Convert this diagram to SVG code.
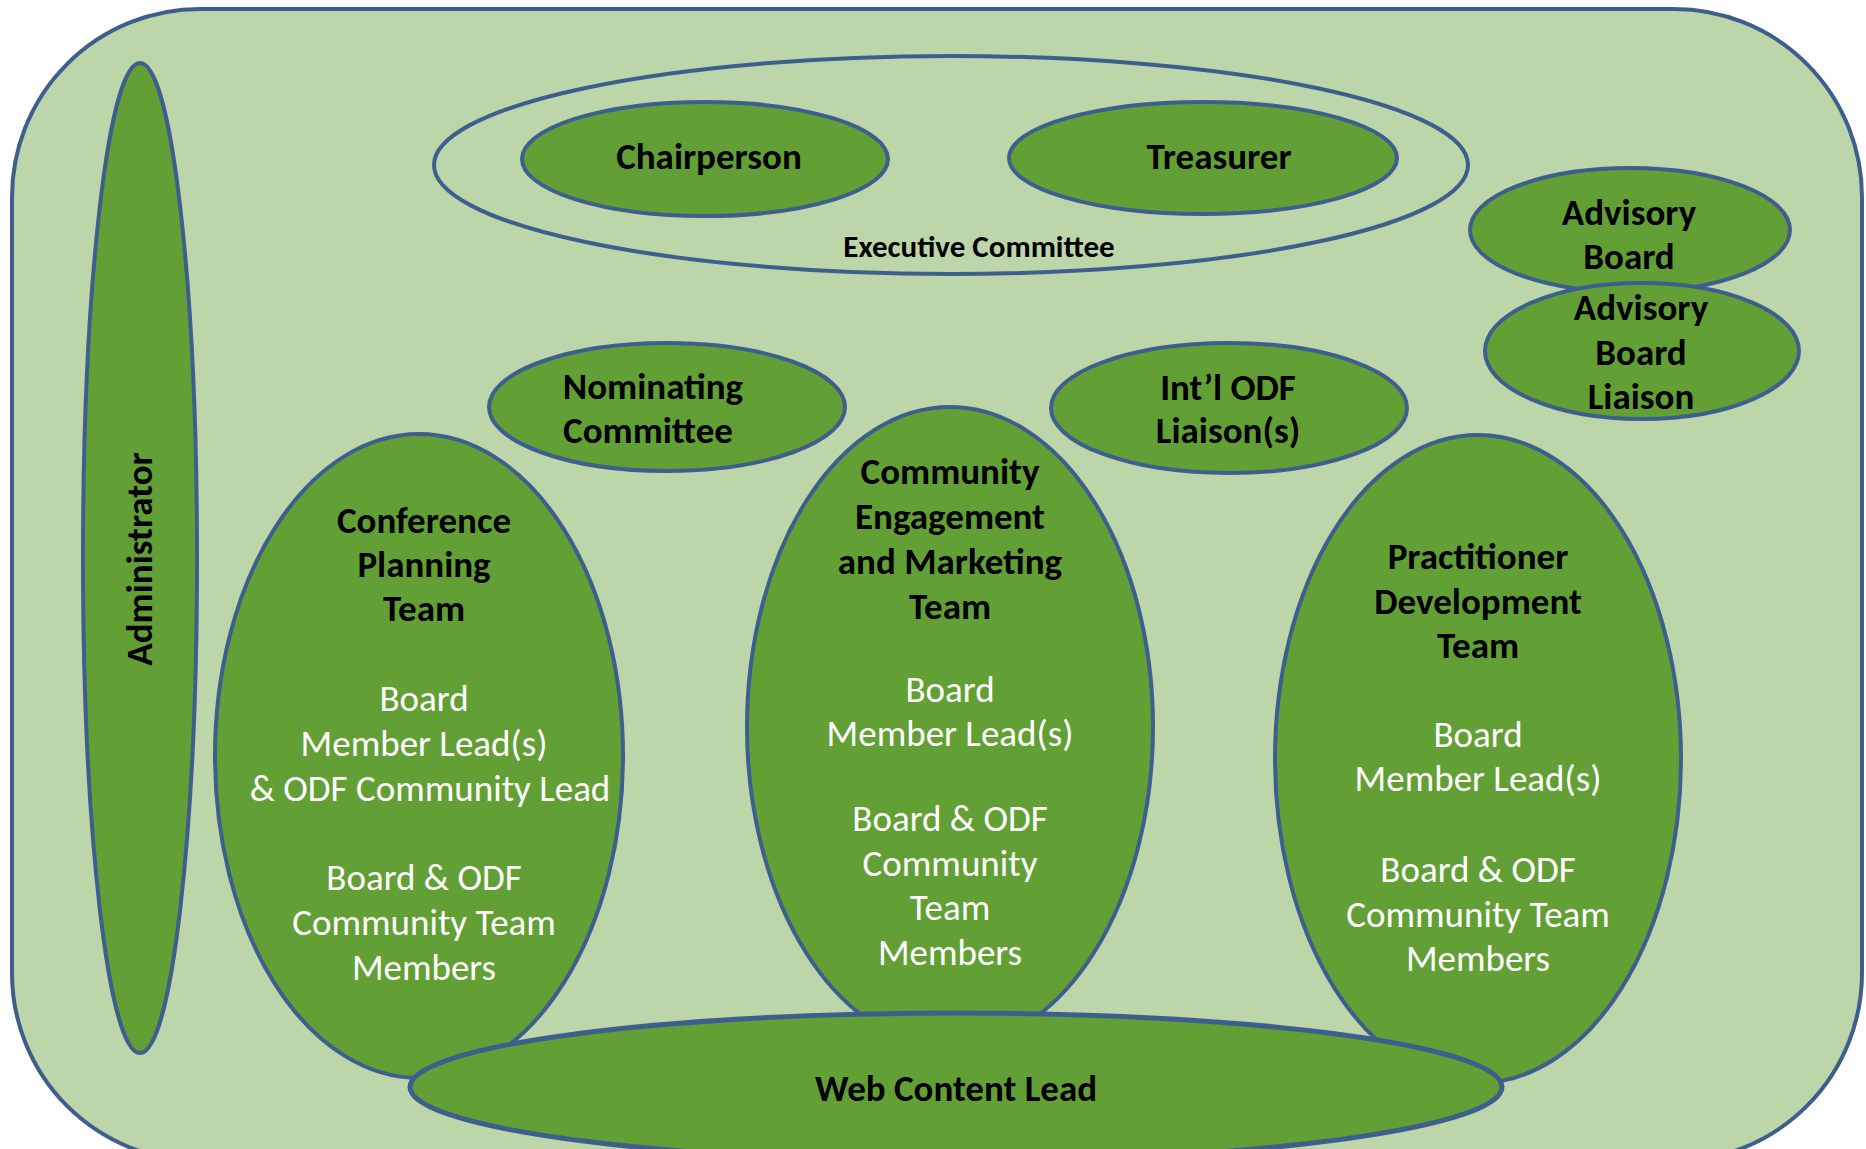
<svg xmlns="http://www.w3.org/2000/svg" width="1866" height="1149" viewBox="0 0 1866 1149">
<defs>
<style>
.bg{fill:#bcd6aa;stroke:#3e5f8d;stroke-width:4}
.n{fill:#62a035;stroke:#3e5f8d;stroke-width:4}
.ring{fill:none;stroke:#3e5f8d;stroke-width:4}
text{font-family:Carlito,Lato,"Liberation Sans",sans-serif;text-anchor:middle;dominant-baseline:central}
.b{font-weight:bold;font-size:37px;fill:#000}
.w{font-size:37px;fill:#fff}
.s{font-weight:bold;font-size:31px;fill:#000}
</style>
</defs>
<rect class="bg" x="12" y="9" width="1850" height="1152" rx="188" ry="188"/>
<g id="executive-committee">
<ellipse class="ring" cx="951" cy="165" rx="517" ry="109"/>
<text class="s" x="979" y="246">Executive Committee</text>
</g>
<g id="chairperson">
<ellipse class="n" cx="705" cy="159" rx="183" ry="57"/>
<text class="b" x="709" y="156">Chairperson</text>
</g>
<g id="treasurer">
<ellipse class="n" cx="1203" cy="158" rx="194" ry="56"/>
<text class="b" x="1219" y="156">Treasurer</text>
</g>
<g id="administrator">
<ellipse class="n" cx="140" cy="558" rx="57" ry="495"/>
<text class="b" transform="translate(139 559) rotate(-90)" x="0" y="0">Administrator</text>
</g>
<g id="advisory-board">
<ellipse class="n" cx="1630" cy="230" rx="160" ry="62"/>
<text class="b" x="1629" y="212">Advisory</text>
<text class="b" x="1629" y="256">Board</text>
</g>
<g id="advisory-board-liaison">
<ellipse class="n" cx="1642" cy="351" rx="157" ry="68"/>
<text class="b" x="1641" y="307">Advisory</text>
<text class="b" x="1641" y="352">Board</text>
<text class="b" x="1641" y="396">Liaison</text>
</g>
<g id="nominating-committee">
<ellipse class="n" cx="667" cy="407" rx="178" ry="64"/>
<text class="b" x="653" y="386">Nominating</text>
<text class="b" x="648" y="430">Committee</text>
</g>
<g id="intl-odf-liaison">
<ellipse class="n" cx="1229" cy="408" rx="178" ry="65"/>
<text class="b" x="1228" y="387">Int’l ODF</text>
<text class="b" x="1228" y="430">Liaison(s)</text>
</g>
<g id="conference-planning-team">
<ellipse class="n" cx="419" cy="756" rx="204" ry="322"/>
<text class="b" x="424" y="520">Conference</text>
<text class="b" x="424" y="564">Planning</text>
<text class="b" x="424" y="608">Team</text>
<text class="w" x="424" y="698">Board</text>
<text class="w" x="424" y="743">Member Lead(s)</text>
<text class="w" x="430" y="788">&amp; ODF Community Lead</text>
<text class="w" x="424" y="877">Board &amp; ODF</text>
<text class="w" x="424" y="922">Community Team</text>
<text class="w" x="424" y="967">Members</text>
</g>
<g id="community-engagement-team">
<ellipse class="n" cx="950" cy="727" rx="203" ry="320"/>
<text class="b" x="950" y="471">Community</text>
<text class="b" x="950" y="516">Engagement</text>
<text class="b" x="950" y="561">and Marketing</text>
<text class="b" x="950" y="606">Team</text>
<text class="w" x="950" y="689">Board</text>
<text class="w" x="950" y="733">Member Lead(s)</text>
<text class="w" x="950" y="818">Board &amp; ODF</text>
<text class="w" x="950" y="863">Community</text>
<text class="w" x="950" y="907">Team</text>
<text class="w" x="950" y="952">Members</text>
</g>
<g id="practitioner-development-team">
<ellipse class="n" cx="1478" cy="759" rx="203" ry="324"/>
<text class="b" x="1478" y="556">Practitioner</text>
<text class="b" x="1478" y="601">Development</text>
<text class="b" x="1478" y="645">Team</text>
<text class="w" x="1478" y="734">Board</text>
<text class="w" x="1478" y="778">Member Lead(s)</text>
<text class="w" x="1478" y="869">Board &amp; ODF</text>
<text class="w" x="1478" y="914">Community Team</text>
<text class="w" x="1478" y="958">Members</text>
</g>
<g id="web-content-lead">
<ellipse class="n" cx="956" cy="1087" rx="546" ry="74" style="stroke-width:5"/>
<text class="b" x="956" y="1088">Web Content Lead</text>
</g>
<g id="connectors"></g>
</svg>
